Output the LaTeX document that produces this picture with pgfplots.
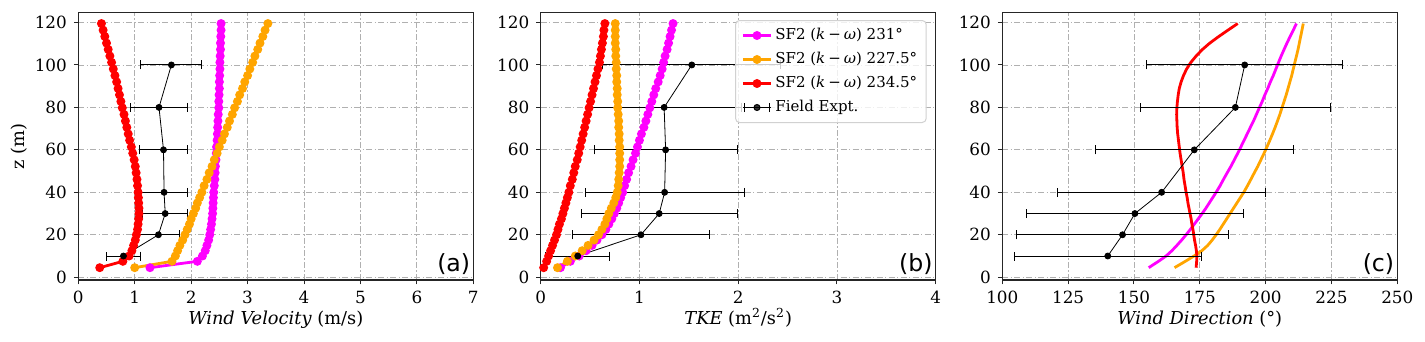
\documentclass[border=0pt]{standalone}
\usepackage{fontspec}
\setmainfont{DejaVu Serif}
\newfontfamily\panelfont{DejaVu Sans}
\usepackage{pgfplots}
\usepackage{pgfplotstable}
\pgfplotsset{compat=1.18}

\definecolor{cmag}{HTML}{FF00FF}
\definecolor{corg}{HTML}{FFA500}
\definecolor{cred}{HTML}{FF0000}
\definecolor{cgrid}{HTML}{B0B0B0}

% model profiles: columns m = 231, o = 227.5, r = 234.5 deg
\pgfplotstableread{
z     m      o      r
4.5   1.27   1.00   0.38
7.5   2.11   1.66   0.79
10    2.20   1.72   0.90
12.5  2.25   1.76   0.95
15    2.28   1.80   0.98
17.5  2.31   1.85   1.01
20    2.33   1.89   1.03
22.5  2.345  1.93   1.05
25    2.36   1.97   1.06
27.5  2.37   2.00   1.07
30    2.38   2.04   1.075
32.5  2.385  2.08   1.075
35    2.39   2.11   1.07
37.5  2.395  2.15   1.065
40    2.40   2.19   1.06
43.1  2.41   2.23   1.05
46.1  2.42   2.28   1.04
49.2  2.425  2.32   1.025
52.2  2.43   2.37   1.01
55.3  2.44   2.41   0.99
58.4  2.445  2.46   0.965
61.4  2.45   2.50   0.94
64.5  2.46   2.55   0.91
67.5  2.465  2.59   0.885
70.6  2.47   2.64   0.86
73.6  2.475  2.68   0.835
76.7  2.48   2.73   0.81
79.8  2.49   2.77   0.78
82.8  2.49   2.82   0.755
85.9  2.495  2.86   0.73
88.9  2.50   2.91   0.705
92.0  2.50   2.95   0.68
95.0  2.505  3.00   0.65
98.1  2.51   3.04   0.62
101.2 2.51   3.09   0.59
104.2 2.515  3.13   0.56
107.3 2.52   3.18   0.53
110.3 2.52   3.22   0.50
113.4 2.525  3.27   0.47
116.4 2.53   3.31   0.44
119.5 2.53   3.36   0.41
}\velo

\pgfplotstableread{
z     m      o      r
4.5   0.20   0.17   0.03
7.5   0.30   0.27   0.06
10    0.39   0.35   0.08
12.5  0.46   0.42   0.10
15    0.52   0.48   0.12
17.5  0.57   0.54   0.14
20    0.62   0.585  0.16
22.5  0.66   0.62   0.175
25    0.69   0.65   0.19
27.5  0.72   0.67   0.21
30    0.745  0.69   0.225
32.5  0.77   0.715  0.24
35    0.79   0.74   0.255
37.5  0.81   0.76   0.27
40    0.83   0.775  0.285
43.1  0.85   0.785  0.30
46.1  0.87   0.79   0.32
49.2  0.89   0.795  0.335
52.2  0.915  0.80   0.35
55.3  0.935  0.80   0.37
58.4  0.96   0.80   0.385
61.4  0.98   0.80   0.40
64.5  1.00   0.795  0.415
67.5  1.02   0.795  0.43
70.6  1.045  0.79   0.445
73.6  1.065  0.79   0.46
76.7  1.085  0.785  0.475
79.8  1.105  0.78   0.49
82.8  1.125  0.78   0.505
85.9  1.145  0.775  0.52
88.9  1.165  0.775  0.535
92.0  1.19   0.77   0.55
95.0  1.21   0.77   0.565
98.1  1.23   0.765  0.58
101.2 1.245  0.765  0.595
104.2 1.26   0.76   0.605
107.3 1.28   0.76   0.615
110.3 1.295  0.755  0.625
113.4 1.31   0.755  0.635
116.4 1.325  0.755  0.64
119.5 1.34   0.755  0.65
}\tke

\pgfplotstableread{
z     m      o      r
4.5   155.6  165.4  173.6
7.5   159.3  169.5  173.8
10    162.2  172.8  173.9
12.5  164.4  175.8  173.7
15    166.3  178.0  173.4
17.5  168.1  179.7  173.0
20    169.8  181.2  172.7
22.5  171.4  182.6  172.4
25    172.9  183.9  172.0
27.5  174.4  185.2  171.7
30    175.9  186.5  171.3
32.5  177.3  187.8  170.9
35    178.6  189.1  170.5
37.5  179.9  190.4  170.2
40    181.2  191.7  169.8
43.1  182.7  193.1  169.4
46.1  184.0  194.4  169.0
49.2  185.4  195.7  168.7
52.2  186.8  197.0  168.3
55.3  188.1  198.2  167.9
58.4  189.4  199.4  167.5
61.4  190.6  200.5  167.2
64.5  191.8  201.6  166.9
67.5  193.0  202.6  166.6
70.6  194.2  203.6  166.4
73.6  195.4  204.5  166.3
76.7  196.5  205.4  166.2
79.8  197.6  206.2  166.3
82.8  198.7  207.0  166.5
85.9  199.7  207.8  166.8
88.9  200.8  208.5  167.2
92.0  201.8  209.2  167.9
95.0  202.9  209.9  168.8
98.1  203.9  210.5  170.0
101.2 204.9  211.1  171.6
104.2 205.9  211.7  173.6
107.3 207.0  212.3  176.0
110.3 208.1  212.8  178.8
113.4 209.3  213.3  182.2
116.4 210.5  213.8  185.7
119.5 211.7  214.3  189.4
}\wdir

% field measurements: value and half-width of the bar
\pgfplotstableread{
z    x     ex
10   0.80  0.30
20   1.42  0.37
30   1.54  0.40
40   1.52  0.41
60   1.51  0.43
80   1.43  0.50
100  1.65  0.54
}\fvelo

\pgfplotstableread{
z    x     ex
10   0.375 0.325
20   1.015 0.695
30   1.20  0.79
40   1.255 0.805
60   1.265 0.725
80   1.25  0.78
100  1.53  0.90
}\ftke

\pgfplotstableread{
z    x      ex
10   140.05 35.55
20   145.65 40.35
30   150.35 41.35
40   160.5  39.5
60   172.9  37.7
80   188.5  36.1
100  192.05 37.15
}\fwdir

\pgfplotsset{
  panel/.style={
    scale only axis, width=197.5pt, height=133.85pt,
    anchor=south west,
    ymin=-1.3, ymax=124.8, ytick={0,20,...,120},
    tick pos=left, tick align=outside, major tick length=2.2pt,
    grid=major,
    major grid style={cgrid, line width=0.4pt, dash pattern=on 3pt off 1.2pt on 0.6pt off 1.2pt},
    axis line style={line width=0.6pt, black!85},
    every tick/.style={black!85, line width=0.5pt},
    ticklabel style={font=\fontsize{8.4}{9.5}\selectfont},
    /pgf/number format/assume math mode=true,
    label style={font=\fontsize{8.9}{10.5}\selectfont},
    xlabel style={at={(axis description cs:0.5,-0.168)}, anchor=base},
    ylabel style={at={(axis description cs:-0.151,0.5)}, anchor=center},
    legend image code/.code={
      \draw[mark repeat=2, mark phase=2, #1] plot coordinates {(0pt,0pt) (7pt,0pt) (14pt,0pt)};},
  },
  model/.style={line width=1.4pt, mark=*, mark size=1.5pt, mark options={solid}},
  field/.style={black, line width=0.4pt, mark=*, mark size=1.5pt,
    error bars/x dir=both, error bars/x explicit,
    error bars/error bar style={line width=0.5pt, black},
    error bars/error mark options={rotate=90, line width=0.5pt, mark size=2.25pt, black}},
}
\tikzset{plabel/.style={anchor=base east, inner sep=0pt, font=\panelfont\fontsize{11.8}{14}\selectfont}}
\newcommand{\kw}{(\textit{k}\hspace{0.2em}−\hspace{0.2em}\textit{ω})}

\begin{document}
\begin{tikzpicture}
\useasboundingbox (0,0) rectangle (712.5pt,171pt);

% (a) wind velocity
\begin{axis}[panel, at={(39.15pt,31pt)},
  xmin=0, xmax=7, xtick={0,1,...,7},
  xlabel={\textit{Wind Velocity} (m/s)}, ylabel={z (m)}]
\addplot[model, cmag] table[x=m, y=z] {\velo};
\addplot[model, corg] table[x=o, y=z] {\velo};
\addplot[model, cred] table[x=r, y=z] {\velo};
\addplot[field] table[x=x, y=z, x error=ex] {\fvelo};
\node[plabel] at (rel axis cs:0.993,0.031) {(a)};
\end{axis}

% (b) turbulent kinetic energy
\begin{axis}[panel, at={(270.35pt,31pt)},
  xmin=0, xmax=4, xtick={0,1,...,4},
  xlabel={\textit{TKE} (m\textsuperscript{2}/s\textsuperscript{2})},
  legend cell align=left,
  legend style={at={(axis description cs:0.9772,0.9712)}, anchor=north east,
    font=\fontsize{7.5}{8.5}\selectfont, draw=black!18, fill=white, fill opacity=0.8,
    draw opacity=1, text opacity=1, rounded corners=2pt, line width=0.5pt,
    inner xsep=3pt, inner ysep=1.5pt, row sep=0pt,
    nodes={inner xsep=1.5pt, inner ysep=1.5pt, text height=6.5pt, text depth=2.5pt}}]
\addplot[model, cmag] table[x=m, y=z] {\tke};
\addlegendentry{SF2 \kw{} 231°}
\addplot[model, corg] table[x=o, y=z] {\tke};
\addlegendentry{SF2 \kw{} 227.5°}
\addplot[model, cred] table[x=r, y=z] {\tke};
\addlegendentry{SF2 \kw{} 234.5°}
\addplot[field, forget plot] table[x=x, y=z, x error=ex] {\ftke};
\addlegendimage{legend image code/.code={
    \draw[black, line width=0.5pt] (0pt,0pt) -- (14pt,0pt)
      (0.9pt,-2.25pt) -- (0.9pt,2.25pt) (13.1pt,-2.25pt) -- (13.1pt,2.25pt);
    \fill[black] (7pt,0pt) circle (1.5pt);}}
\addlegendentry{Field Expt.}
\node[plabel] at (rel axis cs:0.993,0.031) {(b)};
\end{axis}

% (c) wind direction
\begin{axis}[panel, at={(501.15pt,31pt)},
  xmin=100, xmax=250, xtick={100,125,...,250},
  xlabel={\textit{Wind Direction} (°)}]
\addplot[cmag, line width=1.4pt] table[x=m, y=z] {\wdir};
\addplot[corg, line width=1.4pt] table[x=o, y=z] {\wdir};
\addplot[cred, line width=1.4pt] table[x=r, y=z] {\wdir};
\addplot[field] table[x=x, y=z, x error=ex] {\fwdir};
\node[plabel] at (rel axis cs:0.993,0.031) {(c)};
\end{axis}
\end{tikzpicture}
\end{document}
